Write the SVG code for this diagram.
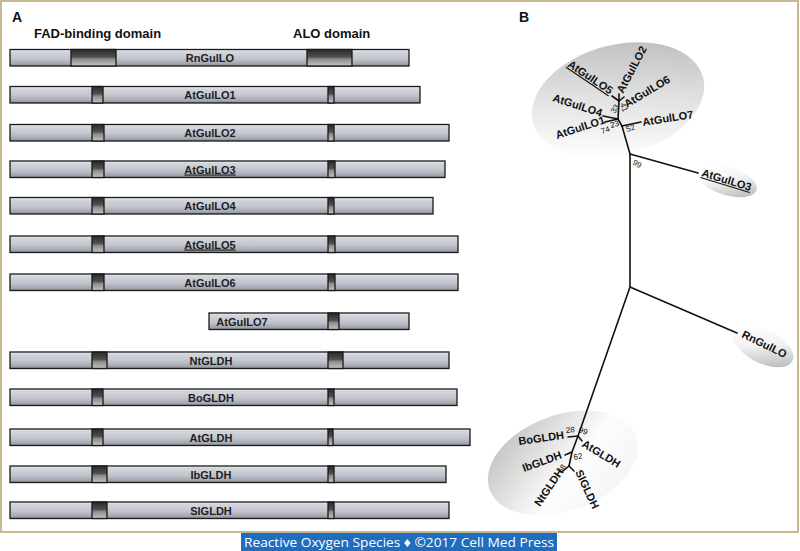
<svg xmlns="http://www.w3.org/2000/svg" width="800" height="551" viewBox="0 0 800 551">
<defs>
<linearGradient id="barG" x1="0" y1="0" x2="0" y2="1">
<stop offset="0" stop-color="#eef0f4"/>
<stop offset="0.15" stop-color="#d2d5dc"/>
<stop offset="0.55" stop-color="#c2c5cd"/>
<stop offset="0.85" stop-color="#a4a8b2"/>
<stop offset="1" stop-color="#878b95"/>
</linearGradient>
<linearGradient id="domG" x1="0" y1="0" x2="0" y2="1">
<stop offset="0" stop-color="#2a2a2a"/>
<stop offset="0.45" stop-color="#505050"/>
<stop offset="0.58" stop-color="#8c8c8c"/>
<stop offset="1" stop-color="#c4c4c4"/>
</linearGradient>
<linearGradient id="topEl" x1="0.7" y1="0" x2="0.25" y2="0.95">
<stop offset="0" stop-color="#bfbfbf"/>
<stop offset="0.5" stop-color="#e2e2e2"/>
<stop offset="1" stop-color="#ffffff"/>
</linearGradient>
<linearGradient id="smallEl" x1="0.1" y1="0.2" x2="0.9" y2="0.9">
<stop offset="0" stop-color="#ffffff"/>
<stop offset="0.45" stop-color="#f2f2f2"/>
<stop offset="1" stop-color="#b8b8b8"/>
</linearGradient>
<linearGradient id="botEl" x1="0" y1="0.2" x2="0.75" y2="0.9">
<stop offset="0" stop-color="#c2c2c2"/>
<stop offset="0.65" stop-color="#fdfdfd"/>
<stop offset="1" stop-color="#f6f6f6"/>
</linearGradient>
</defs>
<style>
.bar{fill:url(#barG);stroke:#1a1a1a;stroke-width:1.3}
.dom{fill:url(#domG);stroke:#1a1a1a;stroke-width:1.3}
.bl{font-family:"Liberation Sans",Arial,sans-serif;font-weight:bold;font-size:11px;fill:#1e1e1e;text-anchor:middle}
.hd{font-family:"Liberation Sans",Arial,sans-serif;font-weight:bold;font-size:13px;fill:#111}
.pl{font-family:"Liberation Sans",Arial,sans-serif;font-weight:bold;font-size:14px;fill:#111}
.tl{font-family:"Liberation Sans",Arial,sans-serif;font-weight:bold;font-size:11px;fill:#111}
.bs{font-family:"Liberation Sans",Arial,sans-serif;font-size:8px;fill:#111}
.ul{text-decoration:underline}
.br{fill:none;stroke:#111;stroke-width:1.6;stroke-linecap:round}
</style>
<rect x="0" y="0" width="800" height="551" fill="#ffffff"/>
<rect x="1" y="1" width="797" height="531" fill="#ffffff" stroke="#c6b98f" stroke-width="2"/>

<text class="pl" x="12" y="22">A</text>
<text class="pl" x="519" y="22">B</text>
<text class="hd" x="34" y="38">FAD-binding domain</text>
<text class="hd" x="293" y="38">ALO domain</text>

<g id="RnGulLO">
<rect class="bar" x="10" y="49.5" width="399" height="16.5"/>
<rect class="dom" x="71" y="49.5" width="45" height="16.5"/>
<rect class="dom" x="307" y="49.5" width="45" height="16.5"/>
<text class="bl" x="210" y="62">RnGulLO</text>
</g>
<g id="AtGulLO1">
<rect class="bar" x="10" y="86.5" width="410" height="16.5"/>
<rect class="dom" x="92" y="86.5" width="11" height="16.5"/>
<rect class="dom" x="328" y="86.5" width="6" height="16.5"/>
<text class="bl" x="210" y="99">AtGulLO1</text>
</g>
<g id="AtGulLO2">
<rect class="bar" x="10" y="124.5" width="439" height="16.5"/>
<rect class="dom" x="92" y="124.5" width="12" height="16.5"/>
<rect class="dom" x="328" y="124.5" width="6" height="16.5"/>
<text class="bl" x="210" y="137">AtGulLO2</text>
</g>
<g id="AtGulLO3">
<rect class="bar" x="10" y="161" width="435" height="16.5"/>
<rect class="dom" x="92" y="161" width="12" height="16.5"/>
<rect class="dom" x="328" y="161" width="7" height="16.5"/>
<text class="bl ul" x="210" y="173.5">AtGulLO3</text>
</g>
<g id="AtGulLO4">
<rect class="bar" x="10" y="197.5" width="423" height="16.5"/>
<rect class="dom" x="92" y="197.5" width="12" height="16.5"/>
<rect class="dom" x="328" y="197.5" width="6" height="16.5"/>
<text class="bl" x="210" y="210">AtGulLO4</text>
</g>
<g id="AtGulLO5">
<rect class="bar" x="10" y="236" width="448" height="16.5"/>
<rect class="dom" x="92" y="236" width="12" height="16.5"/>
<rect class="dom" x="328" y="236" width="7" height="16.5"/>
<text class="bl ul" x="210" y="248.5">AtGulLO5</text>
</g>
<g id="AtGulLO6">
<rect class="bar" x="10" y="274" width="448" height="16.5"/>
<rect class="dom" x="92" y="274" width="12" height="16.5"/>
<rect class="dom" x="328" y="274" width="7" height="16.5"/>
<text class="bl" x="210" y="286.5">AtGulLO6</text>
</g>
<g id="AtGulLO7">
<rect class="bar" x="209" y="313" width="200" height="16.5"/>
<rect class="dom" x="328" y="313" width="11" height="16.5"/>
<text class="bl" x="242" y="325.5">AtGulLO7</text>
</g>
<g id="NtGLDH">
<rect class="bar" x="10" y="352" width="439" height="16.5"/>
<rect class="dom" x="92" y="352" width="15" height="16.5"/>
<rect class="dom" x="328" y="352" width="15" height="16.5"/>
<text class="bl" x="211" y="364.5">NtGLDH</text>
</g>
<g id="BoGLDH">
<rect class="bar" x="10" y="389" width="447" height="16.5"/>
<rect class="dom" x="92" y="389" width="11" height="16.5"/>
<rect class="dom" x="328" y="389" width="6" height="16.5"/>
<text class="bl" x="211" y="401.5">BoGLDH</text>
</g>
<g id="AtGLDH">
<rect class="bar" x="10" y="429" width="460" height="16.5"/>
<rect class="dom" x="92" y="429" width="11" height="16.5"/>
<rect class="dom" x="328" y="429" width="5" height="16.5"/>
<text class="bl" x="211" y="441.5">AtGLDH</text>
</g>
<g id="IbGLDH">
<rect class="bar" x="10" y="466" width="436" height="16.5"/>
<rect class="dom" x="92" y="466" width="15" height="16.5"/>
<rect class="dom" x="328" y="466" width="6" height="16.5"/>
<text class="bl" x="211" y="478.5">IbGLDH</text>
</g>
<g id="SlGLDH">
<rect class="bar" x="10" y="502" width="439" height="16.5"/>
<rect class="dom" x="92" y="502" width="15" height="16.5"/>
<rect class="dom" x="328" y="502" width="6" height="16.5"/>
<text class="bl" x="211" y="514.5">SlGLDH</text>
</g>

<g id="clusters">
<ellipse cx="618" cy="100" rx="88" ry="55" transform="rotate(-15 618 100)" fill="url(#topEl)"/>
<ellipse cx="727" cy="181" rx="31" ry="14" transform="rotate(17 727 181)" fill="url(#smallEl)"/>
<ellipse cx="763" cy="346" rx="33" ry="17" transform="rotate(27 763 346)" fill="url(#smallEl)"/>
<ellipse cx="563" cy="463" rx="78" ry="48" transform="rotate(-20 563 463)" fill="url(#botEl)"/>
</g>

<g id="connectors">
<polyline class="br" points="630,154 630,287"/>
<polyline class="br" points="630,154 698,173"/>
<polyline class="br" points="630,287 737,333"/>
<polyline class="br" points="630,287 578,436"/>
<polyline class="br" points="630,154 622,126"/>
<polyline class="br" points="622,126 641,122"/>
<polyline class="br" points="622,126 618,119 619,101"/>
<polyline class="br" points="618,119 605,122"/>
<polyline class="br" points="618,119 603,116"/>
<polyline class="br" points="619,101 624,97"/>
<polyline class="br" points="619,101 612,96"/>
<polyline class="br" points="619,101 619,94"/>
<polyline class="br" points="578,436 568,437"/>
<polyline class="br" points="578,436 582,441"/>
<polyline class="br" points="578,436 572,452 569,466"/>
<polyline class="br" points="572,452 565,455"/>
<polyline class="br" points="569,466 563,471"/>
<polyline class="br" points="569,466 574,471"/>
</g>

<g id="leaf-AtGulLO5"><text class="tl ul" transform="translate(567,66) rotate(34)">AtGulLO5</text></g>
<g id="leaf-AtGulLO2"><text class="tl" transform="translate(623,94) rotate(-62)">AtGulLO2</text></g>
<g id="leaf-AtGulLO6"><text class="tl" transform="translate(627,108) rotate(-31)">AtGulLO6</text></g>
<g id="leaf-AtGulLO4"><text class="tl" transform="translate(552,101) rotate(18)">AtGulLO4</text></g>
<g id="leaf-AtGulLO1"><text class="tl" transform="translate(557,139) rotate(-18)">AtGulLO1</text></g>
<g id="leaf-AtGulLO7"><text class="tl" transform="translate(643,126) rotate(-9)">AtGulLO7</text></g>
<g id="leaf-AtGulLO3"><text class="tl ul" transform="translate(701,176) rotate(17)">AtGulLO3</text></g>
<g id="leaf-RnGulLO"><text class="tl" transform="translate(741,337) rotate(26)">RnGulLO</text></g>
<g id="leaf-BoGLDH"><text class="tl" transform="translate(519,445) rotate(-8)">BoGLDH</text></g>
<g id="leaf-AtGLDH"><text class="tl" transform="translate(581,446) rotate(31)">AtGLDH</text></g>
<g id="leaf-IbGLDH"><text class="tl" transform="translate(524,472) rotate(-20)">IbGLDH</text></g>
<g id="leaf-NtGLDH"><text class="tl" transform="translate(540,507) rotate(-56)">NtGLDH</text></g>
<g id="leaf-SlGLDH"><text class="tl" transform="translate(575,472) rotate(65)">SlGLDH</text></g>

<g id="bootstrap">
<text class="bs" transform="translate(632,164) rotate(30)">99</text>
<text class="bs" transform="translate(615,114) rotate(-60)">33</text>
<text class="bs" transform="translate(620,104) rotate(70)">41</text>
<text class="bs" transform="translate(611,128) rotate(-15)">23</text>
<text class="bs" transform="translate(602,134) rotate(-20)">74</text>
<text class="bs" transform="translate(627,132) rotate(-18)">52</text>
<text class="bs" transform="translate(566,433) rotate(-5)">28</text>
<text class="bs" transform="translate(578,432) rotate(20)">99</text>
<text class="bs" transform="translate(574,460) rotate(-10)">62</text>
<text class="bs" transform="translate(562,474) rotate(-60)">68</text>
</g>

<g id="banner">
<rect x="241" y="533" width="316" height="18" fill="#1f6dbf"/>
<text x="244" y="547" font-family="'Open Sans','Liberation Sans',sans-serif" font-size="13.5" fill="#ffffff" textLength="310" lengthAdjust="spacingAndGlyphs">Reactive Oxygen Species ♦ ©2017 Cell Med Press</text>
</g>
</svg>
